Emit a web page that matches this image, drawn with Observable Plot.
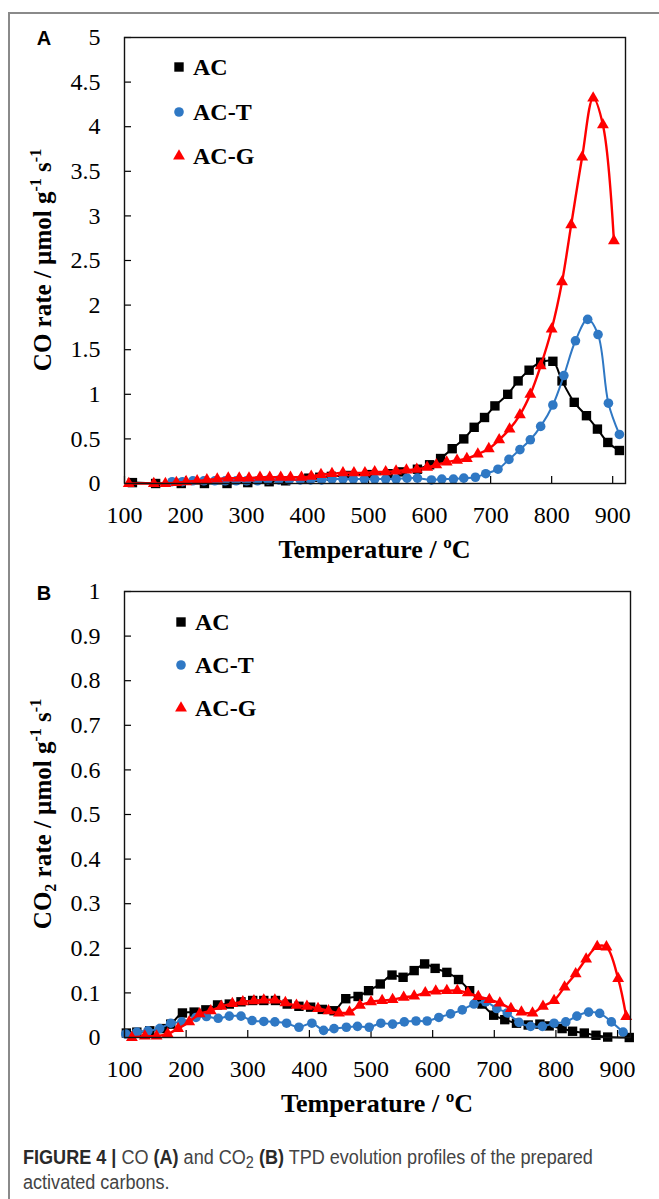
<!DOCTYPE html>
<html><head><meta charset="utf-8">
<script src="https://cdn.jsdelivr.net/npm/d3@7"></script>
<script src="https://cdn.jsdelivr.net/npm/@observablehq/plot@0.6"></script>
<style>
body{margin:0;background:#fff;overflow:hidden;}
#fig{position:relative;width:659px;height:1199px;overflow:hidden;background:#fff;}
#border{position:absolute;left:8px;top:12px;width:720px;height:1300px;border:2px solid #8a8a8a;box-sizing:border-box;}
.panel{position:absolute;left:0;}
#caption{position:absolute;left:23px;top:1145px;white-space:nowrap;font-family:"Liberation Sans",Arial,sans-serif;font-size:20px;line-height:25px;color:#444;transform-origin:0 0;}
#caption b{color:#2a2a2a;}
#caption sub{font-size:0.8em;vertical-align:-0.25em;line-height:0;}
</style></head><body>
<div id="fig">
  <div id="border"></div>
  <div id="pA" class="panel" style="top:0px"></div>
  <div id="pB" class="panel" style="top:580px"></div>
  <div id="caption"><span id="capline1"><b>FIGURE 4 |</b> CO <b>(A)</b> and CO<sub>2</sub> <b>(B)</b> TPD evolution profiles of the prepared</span><br>activated carbons.</div>
</div>
<script>
// ---------- shared ----------
const seriesNames = ["AC", "AC-T", "AC-G"];
const seriesColors = ["#000000", "#2f78c4", "#ff0000"];
const seriesSymbols = ["square", "circle", "triangle"];
const xTicks = [100, 200, 300, 400, 500, 600, 700, 800, 900];
const xDomain = [100, 921];

// ---------- Panel A: CO rate ----------
const aT_AC = [113,151,193,231,268,302,337,364,402,420,439,470,501,532,555,580,600,618,637,656,673,690,707,728,745,763,782,802,817,837,857,875,892,911];
const aV_AC = [0.01,0,0,0,0,0.01,0.02,0.03,0.06,0.07,0.08,0.09,0.1,0.11,0.13,0.16,0.21,0.28,0.39,0.5,0.63,0.74,0.87,1.0,1.15,1.27,1.36,1.37,1.15,0.91,0.76,0.61,0.46,0.37];
const aT_ACT = [178,195,212,230,248,265,283,300,318,335,353,370,388,405,423,440,458,475,493,510,528,545,563,580,603,620,639,656,675,692,712,730,748,765,782,802,820,839,859,876,893,911];
const aV_ACT = [0.02,0.02,0.03,0.03,0.03,0.03,0.03,0.03,0.03,0.04,0.04,0.04,0.04,0.04,0.04,0.05,0.05,0.05,0.05,0.05,0.05,0.05,0.06,0.06,0.04,0.05,0.05,0.06,0.07,0.11,0.16,0.27,0.38,0.49,0.64,0.88,1.21,1.6,1.84,1.67,0.9,0.55];
const aT_ACG = [107,148,167,185,201,219,235,252,270,288,304,322,338,356,372,390,406,422,440,458,476,494,510,528,545,562,579,596,611,628,645,661,679,697,714,731,748,765,782,800,817,832,850,868,884,902];
const aV_ACG = [0,0,0,0.01,0.02,0.03,0.04,0.05,0.06,0.06,0.06,0.07,0.07,0.07,0.07,0.07,0.08,0.1,0.11,0.12,0.12,0.12,0.13,0.13,0.14,0.15,0.16,0.18,0.21,0.24,0.26,0.28,0.33,0.39,0.49,0.61,0.77,1.0,1.32,1.73,2.26,2.9,3.66,4.32,4.02,2.72];
const yTicksA = [0, 0.5, 1, 1.5, 2, 2.5, 3, 3.5, 4, 4.5, 5];

// ---------- Panel B: CO2 rate ----------
const bT_AC = [103,120,141,162,175,194,213,232,251,270,289,308,326,345,364,383,402,421,440,459,479,496,515,534,552,570,587,604,623,642,660,680,699,717,736,755,774,789,810,827,846,865,884,919];
const bV_AC = [0.01,0.012,0.015,0.02,0.03,0.055,0.057,0.062,0.073,0.075,0.08,0.083,0.083,0.083,0.075,0.07,0.068,0.063,0.06,0.087,0.092,0.105,0.12,0.14,0.135,0.15,0.165,0.155,0.146,0.13,0.105,0.075,0.05,0.04,0.032,0.028,0.03,0.026,0.02,0.014,0.01,0.005,0.001,0];
const bT_ACT = [102,120,138,157,175,193,216,233,252,270,289,307,326,344,363,383,404,423,440,460,478,497,516,535,554,573,591,610,629,648,667,686,704,721,740,759,778,797,816,834,853,871,890,909];
const bV_ACT = [0.008,0.012,0.015,0.02,0.032,0.035,0.045,0.047,0.043,0.048,0.048,0.038,0.036,0.035,0.032,0.023,0.032,0.016,0.02,0.023,0.025,0.023,0.032,0.03,0.035,0.037,0.037,0.045,0.053,0.062,0.075,0.08,0.065,0.055,0.034,0.025,0.025,0.032,0.035,0.048,0.057,0.054,0.035,0.012];
const bT_ACG = [112,133,152,170,187,205,222,240,257,275,292,310,326,344,361,379,396,414,431,448,465,482,500,518,535,553,570,588,605,623,640,657,674,692,709,727,744,762,779,797,814,832,849,867,882,901,914];
const bV_ACG = [0,0.003,0.003,0.008,0.02,0.035,0.053,0.06,0.07,0.076,0.08,0.082,0.084,0.084,0.078,0.072,0.07,0.065,0.06,0.055,0.057,0.072,0.08,0.083,0.085,0.09,0.093,0.1,0.104,0.105,0.105,0.1,0.092,0.085,0.077,0.065,0.057,0.055,0.07,0.083,0.113,0.143,0.176,0.204,0.203,0.132,0.047];
const yTicksB = [0, 0.1, 0.2, 0.3, 0.4, 0.5, 0.6, 0.7, 0.8, 0.9, 1];

const markerR = {square: 5.3, circle: 4.8, triangle: 4.4};

function rows(T, V) { return T.map((t, i) => ({t, v: V[i]})); }

function makePanel(cfg) {
  const W = 659;
  const plotW = W - cfg.marginLeft - cfg.marginRight;
  const plotH = cfg.height - cfg.marginTop - cfg.marginBottom;
  const marks = [];
  cfg.series.forEach((s, i) => {
    const data = rows(s[0], s[1]);
    marks.push(Plot.line(data, {x: "t", y: "v", stroke: seriesColors[i], strokeWidth: i === 2 ? 2.4 : 2, curve: "catmull-rom"}));
    marks.push(Plot.dot(data, {x: "t", y: "v", symbol: seriesSymbols[i], r: markerR[seriesSymbols[i]], fill: seriesColors[i], stroke: "none"}));
  });
  const svg = Plot.plot({
    width: W, height: cfg.height,
    marginLeft: cfg.marginLeft, marginRight: cfg.marginRight,
    marginTop: cfg.marginTop, marginBottom: cfg.marginBottom,
    style: {fontFamily: "'Liberation Serif', 'Times New Roman', serif", fontSize: "24px", color: "#000", background: "transparent", overflow: "visible"},
    x: {domain: xDomain, ticks: xTicks, tickSize: 0, tickPadding: 22, tickFormat: d => String(d), label: null},
    y: {domain: cfg.yDomain, ticks: cfg.yTicks, tickSize: 0, tickPadding: 24, tickFormat: d => String(d), label: null},
    marks: [
      Plot.tickY(cfg.yTicks, {y: d => d, insetRight: plotW - 7, stroke: "#000", strokeWidth: 1.2}),
      Plot.tickX(xTicks, {x: d => d, insetTop: plotH - 7, stroke: "#000", strokeWidth: 1.2}),
      ...marks,
      Plot.frame({stroke: "#111", strokeWidth: 1.4})
    ]
  });
  const g = d3.select(svg);
  const serif = "'Liberation Serif', 'Times New Roman', serif";
  // panel letter
  g.append("text").attr("x", 44).attr("y", cfg.letterY).attr("text-anchor", "middle")
    .attr("dominant-baseline", "central").attr("font-family", "'Liberation Sans', Arial, sans-serif")
    .attr("font-weight", "bold").attr("font-size", 20).attr("fill", "#000").text(cfg.letter);
  // y title
  const cy = cfg.marginTop + plotH / 2;
  const yt = g.append("text").attr("transform", `translate(51,${cy}) rotate(-90)`)
    .attr("text-anchor", "middle").attr("font-family", serif).attr("font-weight", "bold")
    .attr("font-size", 25).attr("fill", "#000");
  cfg.yTitle.forEach(p => {
    const ts = yt.append("tspan").text(p.t);
    if (p.sup) ts.attr("font-size", 16).attr("dy", -10);
    else if (p.sub) ts.attr("font-size", 16).attr("dy", 5);
    if (p.back) ts.attr("dy", p.back);
  });
  // x title
  g.append("text").attr("x", cfg.marginLeft + plotW / 2).attr("y", cfg.height - cfg.marginBottom + 75)
    .attr("text-anchor", "middle").attr("font-family", serif).attr("font-weight", "bold")
    .attr("font-size", 26).attr("fill", "#000").text("Temperature / ºC");
  // legend
  seriesNames.forEach((name, i) => {
    const y = cfg.legendY[i];
    const r = markerR[seriesSymbols[i]];
    const type = [d3.symbolSquare, d3.symbolCircle, d3.symbolTriangle][i];
    g.append("path").attr("d", d3.symbol(type, Math.PI * r * r)())
      .attr("transform", `translate(${cfg.legendX},${y})`).attr("fill", seriesColors[i]);
    g.append("text").attr("x", cfg.legendX + 14).attr("y", y).attr("dy", "0.35em")
      .attr("text-anchor", "start")
      .attr("font-family", serif).attr("font-weight", "bold").attr("font-size", 24)
      .attr("fill", "#000").text(name);
  });
  document.getElementById(cfg.el).appendChild(svg);
}

makePanel({
  el: "pA", height: 580, marginLeft: 124, marginRight: 34, marginTop: 37, marginBottom: 97,
  yDomain: [0, 5], yTicks: yTicksA, letter: "A", letterY: 38,
  legendX: 179, legendY: [67, 112, 156],
  yTitle: [{t: "CO rate / µmol g"}, {t: "-1", sup: true}, {t: " s", back: 10}, {t: "-1", sup: true}],
  series: [[aT_AC, aV_AC], [aT_ACT, aV_ACT], [aT_ACG, aV_ACG]]
});
makePanel({
  el: "pB", height: 560, marginLeft: 124, marginRight: 29, marginTop: 11, marginBottom: 103,
  yDomain: [0, 1], yTicks: yTicksB, letter: "B", letterY: 13,
  legendX: 181, legendY: [42, 85, 128],
  yTitle: [{t: "CO"}, {t: "2", sub: true}, {t: " rate / µmol g", back: -5}, {t: "-1", sup: true}, {t: " s", back: 10}, {t: "-1", sup: true}],
  series: [[bT_AC, bV_AC], [bT_ACT, bV_ACT], [bT_ACG, bV_ACG]]
});

// fit caption first line to the reference width (~570px)
const cap = document.getElementById("caption");
const w1 = document.getElementById("capline1").getBoundingClientRect().width;
cap.style.transform = `scaleX(${(570 / w1).toFixed(3)})`;
</script>
</body></html>
